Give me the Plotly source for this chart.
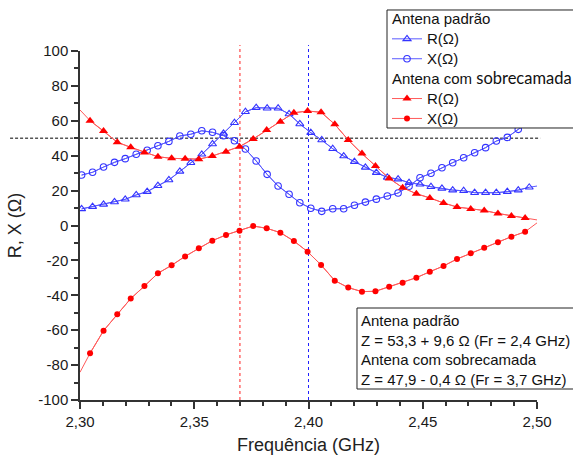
import plotly.graph_objects as go

# ---------------- data ----------------
blue_freq = [2.3007, 2.3055, 2.3103, 2.3151, 2.3198, 2.3246, 2.3294, 2.3341, 2.3389, 2.3437,
             2.3485, 2.3533, 2.3580, 2.3628, 2.3676, 2.3724, 2.3771, 2.3819, 2.3867, 2.3915,
             2.3962, 2.4010, 2.4058, 2.4106, 2.4154, 2.4201, 2.4249, 2.4297, 2.4345, 2.4392,
             2.4440, 2.4488, 2.4536, 2.4584, 2.4631, 2.4679, 2.4727, 2.4775, 2.4822, 2.4870,
             2.4918, 2.4966]
blue_R = [9.5, 10.8, 12.1, 13.5, 15.0, 17.5, 19.4, 22.8, 26.1, 31.0,
          36.0, 40.8, 46.7, 52.8, 58.9, 65.2, 67.5, 67.2, 67.2, 63.9,
          58.2, 53.2, 49.0, 44.0, 39.8, 36.6, 33.3, 30.3, 27.6, 26.6,
          24.5, 23.6, 22.2, 21.3, 20.3, 19.9, 18.8, 18.8, 18.8, 19.4,
          20.3, 21.9]
blue_X = [28.9, 30.5, 33.5, 36.2, 38.3, 40.8, 43.1, 45.7, 48.2, 51.3,
          52.3, 54.3, 53.4, 51.5, 48.6, 43.8, 37.0, 29.3, 22.6, 17.9,
          13.0, 9.9, 8.1, 9.6, 9.6, 11.6, 13.4, 15.1, 16.9, 18.6,
          22.5, 27.4, 29.9, 33.1, 36.0, 38.8, 41.7, 44.6, 48.4, 50.5,
          55.1, 59.0]

red_freq = [2.3044, 2.3103, 2.3163, 2.3222, 2.3282, 2.3341, 2.3401, 2.3460, 2.3520, 2.3579,
            2.3639, 2.3698, 2.3758, 2.3817, 2.3877, 2.3936, 2.3996, 2.4055, 2.4115, 2.4174,
            2.4234, 2.4293, 2.4353, 2.4412, 2.4472, 2.4531, 2.4591, 2.4650, 2.4710, 2.4769,
            2.4829, 2.4888, 2.4948]
red_R = [60.1, 54.2, 47.7, 44.8, 41.9, 39.4, 38.5, 38.3, 38.0, 39.8,
         42.3, 45.2, 49.6, 54.7, 59.5, 64.6, 65.6, 64.9, 58.0, 49.0,
         41.2, 34.1, 27.0, 21.7, 18.2, 15.8, 12.9, 10.6, 9.5, 8.6,
         6.9, 5.4, 4.3]
red_X = [-73.2, -60.3, -50.9, -41.9, -34.7, -27.4, -22.8, -17.7, -13.1, -8.7,
         -5.4, -3.0, -0.3, -1.6, -4.1, -8.9, -15.0, -22.6, -31.6, -35.6,
         -37.9, -37.7, -35.1, -32.8, -29.9, -26.5, -23.2, -19.2, -15.9, -12.7,
         -9.6, -6.4, -3.6]

# line ends (curves continue to the frame edges without markers)
freq_start, freq_end = 2.30, 2.50
blue_R_end, blue_X_end = 22.6, 62.0
red_R_start, red_R_end = 66.2, 3.2
red_X_start, red_X_end = -84.1, 1.5

fr_padrao = 2.40      # blue vertical marker
fr_sobre = 2.37       # red vertical marker
z_ref = 50            # horizontal reference

x_tickvals = [2.30, 2.35, 2.40, 2.45, 2.50]
x_ticktext = ["2,30", "2,35", "2,40", "2,45", "2,50"]
y_tickvals = [-100, -80, -60, -40, -20, 0, 20, 40, 60, 80, 100]
y_ticktext = [str(v) for v in y_tickvals]

# ---------------- figure ----------------
FONT = "Liberation Sans, Arial, sans-serif"
BLUE_M = "#3333ff"
BLUE_L = "#5a5aff"
RED_M = "#ff0000"
RED_L = "#ff5a5a"

fig = go.Figure()

def sp(t):
    return "<span style='font-size:15px'>" + t + "</span>"

# continuous line traces (no legend)
fig.add_trace(go.Scatter(x=blue_freq + [freq_end], y=blue_R + [blue_R_end], mode="lines",
                         line=dict(color=BLUE_L, width=1), showlegend=False, hoverinfo="skip"))
fig.add_trace(go.Scatter(x=blue_freq + [freq_end], y=blue_X + [blue_X_end], mode="lines",
                         line=dict(color=BLUE_L, width=1), showlegend=False, hoverinfo="skip"))
fig.add_trace(go.Scatter(x=[freq_start] + red_freq + [freq_end], y=[red_R_start] + red_R + [red_R_end],
                         mode="lines", line=dict(color=RED_L, width=1), showlegend=False, hoverinfo="skip"))
fig.add_trace(go.Scatter(x=[freq_start] + red_freq + [freq_end], y=[red_X_start] + red_X + [red_X_end],
                         mode="lines", line=dict(color=RED_L, width=1), showlegend=False, hoverinfo="skip"))

grp1 = "Antena padrão"
grp2 = "Antena com <span style='font-family:Lato;font-size:16.5px'>sobrecamada</span>"

fig.add_trace(go.Scatter(x=blue_freq, y=blue_R, mode="lines+markers", name=sp("R(Ω)"),
                         legendgroup="g1", legendgrouptitle=dict(text=sp(grp1)),
                         line=dict(color=BLUE_L, width=1),
                         marker=dict(symbol="triangle-up-open", size=7, color=BLUE_M, line=dict(width=1.1, color=BLUE_M))))
fig.add_trace(go.Scatter(x=blue_freq, y=blue_X, mode="lines+markers", name=sp("X(Ω)"),
                         legendgroup="g1",
                         line=dict(color=BLUE_L, width=1),
                         marker=dict(symbol="circle-open", size=6.5, color=BLUE_M, line=dict(width=1.1, color=BLUE_M))))
fig.add_trace(go.Scatter(x=red_freq, y=red_R, mode="lines+markers", name=sp("R(Ω)"),
                         legendgroup="g2", legendgrouptitle=dict(text=sp(grp2)),
                         line=dict(color=RED_L, width=1),
                         marker=dict(symbol="triangle-up", size=8, color=RED_M)))
fig.add_trace(go.Scatter(x=red_freq, y=red_X, mode="lines+markers", name=sp("X(Ω)"),
                         legendgroup="g2",
                         line=dict(color=RED_L, width=1),
                         marker=dict(symbol="circle", size=6, color=RED_M)))

# reference lines
fig.add_shape(type="line", xref="x", yref="paper", x0=fr_sobre, x1=fr_sobre, y0=0, y1=1.017,
              line=dict(color="#ff2020", width=1, dash="dot"), layer="below")
fig.add_shape(type="line", xref="x", yref="paper", x0=fr_padrao, x1=fr_padrao, y0=0, y1=1.017,
              line=dict(color="#2020ff", width=1, dash="dot"), layer="below")
fig.add_shape(type="line", xref="paper", yref="y", x0=-0.153, x1=1.007, y0=z_ref, y1=z_ref,
              line=dict(color="#555555", width=1.5, dash="3px,2px"), layer="below")

# frames for legend and note (running past the right edge of the picture)
fig.add_shape(type="rect", xref="paper", yref="paper", x0=0.6718, x1=1.2, y0=0.7794, y1=1.1175,
              line=dict(color="#222222", width=1), fillcolor="white", layer="above")
fig.add_shape(type="rect", xref="paper", yref="paper", x0=0.6061, x1=1.2, y0=0.0315, y1=0.2636,
              line=dict(color="#222222", width=1), fillcolor="white", layer="above")

# annotation text
ann_text = ("Antena padrão<br>"
            "Z = 53,3 + 9,6 Ω (Fr = 2,4 GHz)<br>"
            "Antena com sobrecamada<br>"
            "Z = 47,9 - 0,4 Ω (Fr = 3,7 GHz)")
fig.add_annotation(xref="paper", yref="paper", x=0.608, y=0.2606, xanchor="left", yanchor="top",
                   text=ann_text, showarrow=False, align="left",
                   font=dict(family=FONT, size=15, color="#111111"),
                   borderwidth=0, borderpad=3, bgcolor="rgba(0,0,0,0)")

axis_common = dict(showline=True, linecolor="#333333", linewidth=1.5, ticks="outside",
                   ticklen=7, tickwidth=1.5, tickcolor="#333333", showgrid=False, zeroline=False,
                   tickfont=dict(family=FONT, size=15, color="#1a1a1a"), mirror=False)

fig.update_layout(
    width=573, height=457,
    margin=dict(l=80, r=36, t=51, b=57, autoexpand=False),
    paper_bgcolor="white", plot_bgcolor="white",
    font=dict(family=FONT, color="#111111"),
    showlegend=True,
    legend=dict(x=0.6718, y=1.1347, xanchor="left", yanchor="top",
                bgcolor="rgba(0,0,0,0)", borderwidth=0,
                font=dict(family=FONT, size=13, color="#111111"),
                grouptitlefont=dict(family=FONT, size=13, color="#111111"),
                traceorder="grouped", tracegroupgap=0, itemwidth=30),
    xaxis=dict(range=[2.30, 2.50], tickmode="array", tickvals=x_tickvals, ticktext=x_ticktext,
               minor=dict(dtick=0.01, tick0=2.30, ticks="outside", ticklen=4, tickwidth=1.5, tickcolor="#333333"),
               title=dict(text="Frequência (GHz)", font=dict(family=FONT, size=18, color="#222222"), standoff=10),
               **axis_common),
    yaxis=dict(range=[-100, 100], tickmode="array", tickvals=y_tickvals, ticktext=y_ticktext,
               minor=dict(dtick=10, tick0=0, ticks="outside", ticklen=4, tickwidth=1.5, tickcolor="#333333"),
               title=dict(text="R, X (Ω)", font=dict(family=FONT, size=18, color="#222222"), standoff=12),
               **axis_common),
)

fig.write_html("out.html")
